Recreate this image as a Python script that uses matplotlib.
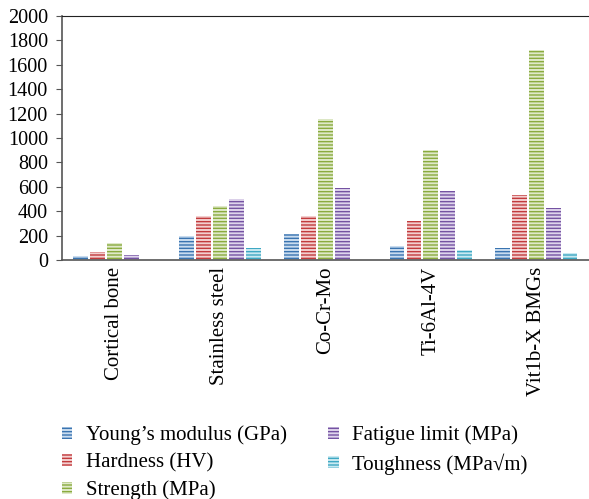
import numpy as np
import matplotlib.pyplot as plt

plt.rcParams['font.family'] = ['Liberation Serif', 'DejaVu Serif']
plt.rcParams['hatch.linewidth'] = 1.0

# data
materials = ['Cortical bone', 'Stainless steel', 'Co-Cr-Mo', 'Ti-6Al-4V', 'Vit1b-X BMGs']
youngs = [30, 194, 213, 112, 96]
hardness = [68, 364, 364, 320, 533]
strength = [137, 441, 1158, 903, 1722]
fatigue = [38, 500, 586, 564, 424]
toughness = [3, 96, 0, 82, 55]

series = [youngs, hardness, strength, fatigue, toughness]
names = ["Young\u2019s modulus (GPa)", 'Hardness (HV)', 'Strength (MPa)',
         'Fatigue limit (MPa)', 'Toughness (MPa\u221am)']
line_cols = ['#3a74b0', '#c23b3d', '#8aab3e', '#7452a2', '#3ea8c3']
face_cols = ['#c9dcef', '#f3cfcf', '#dfe9c9', '#ded4ec', '#c9e9f1']

fig = plt.figure(figsize=(5.89, 4.99), dpi=100)
ax = fig.add_axes([0.105, 0.479, 0.895, 0.489])

x = np.arange(len(materials))
w = 0.14
step = 0.16
handles = []
for i, (vals, nm) in enumerate(zip(series, names)):
    b = ax.bar(x + (i - 2) * step, vals, w, color=face_cols[i],
               edgecolor=line_cols[i], linewidth=0, hatch='-----', label=nm)
    handles.append(b)

ax.set_xlim(-0.5, 4.5)
ax.set_ylim(0, 2000)
ax.set_yticks(np.arange(0, 2001, 200))
ax.set_xticks(x)
ax.set_xticklabels(materials, rotation=90, fontsize=15)
ax.tick_params(axis='y', labelsize=14.5, length=4, color='#555555', pad=6)
ax.tick_params(axis='x', length=0, pad=5)

ax.spines['right'].set_visible(False)
ax.spines['top'].set_color('#222222')
ax.spines['left'].set_color('#555555')
ax.spines['bottom'].set_color('#555555')
ax.spines['left'].set_linewidth(1.2)
ax.spines['bottom'].set_linewidth(1.2)

fig.legend(handles, names, ncol=2, loc='upper left',
           bbox_to_anchor=(0.105, 0.147), frameon=False, fontsize=15,
           handlelength=0.5, handleheight=0.5, handletextpad=0.65,
           columnspacing=2.0, labelspacing=0.38, borderpad=0,
           borderaxespad=0)

fig.savefig('out.png', dpi=100)
